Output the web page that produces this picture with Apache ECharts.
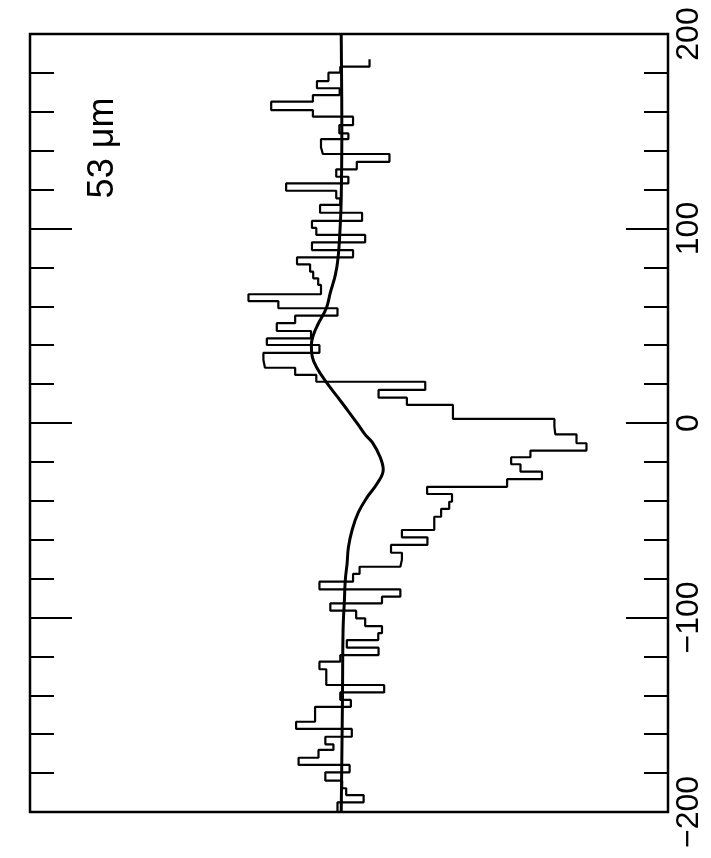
<!DOCTYPE html>
<html><head><meta charset="utf-8">
<script src="https://cdn.jsdelivr.net/npm/echarts/dist/echarts.min.js"></script>
<style>html,body{margin:0;padding:0;background:#fff}#c{width:711px;height:858px}</style>
</head><body><div id="c"></div>
<script>
// Channel edges (velocity, km/s), top to bottom
const channelEdges = [
  187.0, 183.2, 180.1, 175.8, 172.1, 168.6, 165.2, 160.9, 157.5, 153.2,
  148.9, 145.9, 141.7, 138.3, 134.3, 130.4, 126.6, 123.2, 119.4, 115.5,
  112.1, 108.1, 103.9, 100.3, 96.7, 92.9, 88.9, 85.2, 81.6, 77.8,
  74.4, 71.0, 66.2, 62.7, 59.0, 55.2, 51.3, 47.3, 43.5, 40.1,
  36.1, 32.4, 28.4, 24.7, 21.2, 17.0, 13.0, 9.3, 5.7, 2.1,
  -1.9, -5.8, -10.4, -14.2, -17.6, -21.2, -25.0, -28.9, -32.8, -36.5,
  -40.5, -44.2, -48.2, -51.6, -55.0, -58.8, -62.7, -66.7, -70.3, -73.9,
  -77.6, -81.6, -85.5, -89.3, -92.7, -96.5, -100.4, -104.4, -108.0, -111.6,
  -115.5, -119.3, -122.7, -126.6, -130.6, -134.7, -138.5, -142.4, -145.9, -149.6,
  -153.6, -157.3, -161.3, -165.2, -168.1, -172.1, -175.8, -179.6, -183.9, -187.8,
  -191.3, -195.0, -202.0
];
// Observed flux per channel (continuum-subtracted, arbitrary units)
const fluxValues = [
  0.091, -0.003, -0.041, -0.078, -0.005, -0.091, -0.225, -0.091, 0.038, -0.006,
  0.023, -0.065, -0.059, 0.155, 0.050, -0.016, 0.023, -0.177, -0.016, -0.003,
  -0.068, 0.067, -0.094, -0.080, 0.077, -0.094, 0.038, -0.142, -0.100, -0.090,
  -0.074, -0.065, -0.298, -0.202, -0.012, -0.148, -0.207, -0.097, -0.239, -0.070,
  -0.250, -0.245, -0.148, -0.080, 0.270, 0.120, 0.211, 0.359, 0.359, 0.685,
  0.688, 0.756, 0.788, 0.608, 0.546, 0.576, 0.645, 0.533, 0.276, 0.356,
  0.347, 0.321, 0.299, 0.299, 0.195, 0.277, 0.160, 0.195, 0.190, 0.059,
  0.038, -0.070, 0.190, 0.131, -0.035, 0.048, 0.077, 0.131, 0.119, 0.018,
  0.120, -0.003, -0.070, -0.048, -0.048, 0.138, -0.003, 0.031, -0.084, -0.084,
  -0.145, 0.034, -0.051, -0.025, -0.073, -0.137, 0.027, -0.051, 0.003, 0.016,
  0.072, -0.012
];
// Model profile (smooth curve)
const modelVelocity = [200, 150, 115, 102, 85, 76, 67, 59, 50, 45, 40, 34, 28, 21, 13, 6, -1, -6, -10, -17.5, -24, -31, -38, -46, -55, -64, -72, -81, -92, -106, -142, -200];
const modelFlux = [0, 0.002, 0, -0.003, -0.010, -0.019, -0.035, -0.048, -0.077, -0.090, -0.096, -0.093, -0.077, -0.048, -0.010, 0.023, 0.055, 0.077, 0.100, 0.125, 0.135, 0.116, 0.084, 0.055, 0.035, 0.023, 0.019, 0.013, 0.010, 0.006, 0.004, 0];
const velocityRange = [-200, 200];
const velocityMajorStep = 100;
const panelLabel = '53 \u03bcm';

const histPoints = [];
for (let k = 0; k < fluxValues.length; k++) {
  histPoints.push([fluxValues[k], channelEdges[k]]);
  histPoints.push([fluxValues[k], channelEdges[k + 1]]);
}
const modelPoints = modelVelocity.map((v, i) => [modelFlux[i], v]);

const fmt = v => (v < 0 ? '\u2212' + Math.abs(v) : String(v));
const tickCommon = {
  type: 'value', min: velocityRange[0], max: velocityRange[1], interval: velocityMajorStep,
  axisLine: { show: false, onZero: false }, splitLine: { show: false },
  axisTick: { show: true, inside: true, length: 42, lineStyle: { color: '#000', width: 2 } },
  minorTick: { show: true, splitNumber: 5, length: 24, lineStyle: { color: '#000', width: 2 } }
};

const chart = echarts.init(document.getElementById('c'), null, { renderer: 'canvas' });
chart.setOption({
  animation: false,
  backgroundColor: '#fff',
  grid: { left: 30, right: 43, top: 34, bottom: 46, show: true, borderColor: '#000', borderWidth: 2.5, backgroundColor: 'transparent' },
  xAxis: { type: 'value', min: -1.0, max: 1.05, show: true, axisLine: { show: false, onZero: false }, axisTick: { show: false }, axisLabel: { show: false }, splitLine: { show: false } },
  yAxis: [
    Object.assign({}, tickCommon, { position: 'right',
      axisLabel: { show: true, rotate: 90, margin: 5, fontSize: 32, color: '#000', fontFamily: 'Liberation Sans', formatter: fmt } }),
    Object.assign({}, tickCommon, { position: 'left', axisLabel: { show: false } })
  ],
  series: [
    { type: 'line', data: histPoints, yAxisIndex: 0, showSymbol: false, symbol: 'none',
      lineStyle: { color: '#000', width: 2.2 }, clip: true },
    { type: 'line', data: modelPoints, yAxisIndex: 0, showSymbol: false, symbol: 'none', smooth: 0.4,
      lineStyle: { color: '#000', width: 3 }, clip: true }
  ],
  graphic: [
    { type: 'text', x: 103, y: 148, rotation: Math.PI / 2,
      style: { text: panelLabel, font: '36px Liberation Sans', fill: '#000', align: 'center', verticalAlign: 'middle' } }
  ]
});
</script>
</body></html>
